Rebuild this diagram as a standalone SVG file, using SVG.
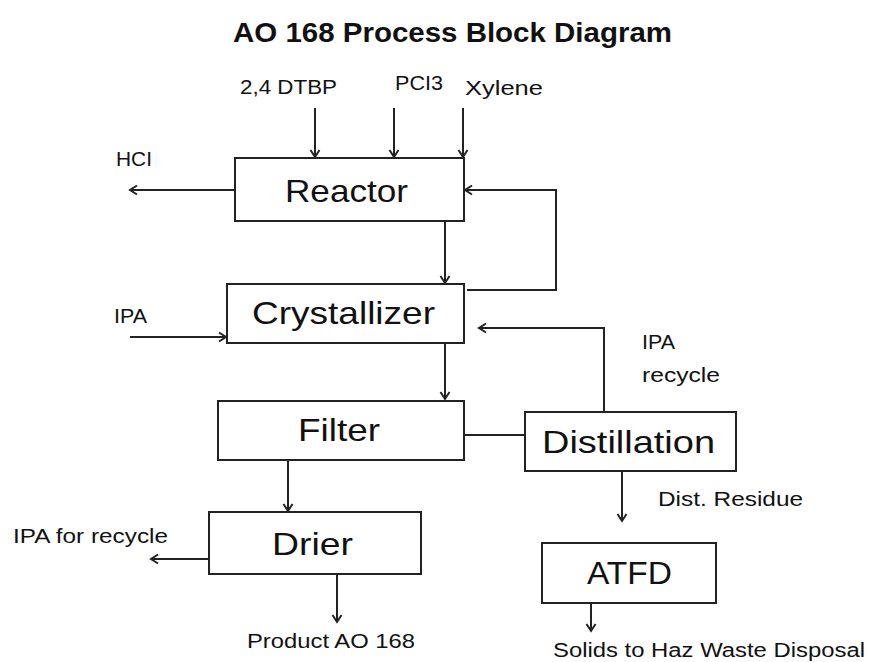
<svg xmlns="http://www.w3.org/2000/svg" width="869" height="662" viewBox="0 0 869 662">
<style>
.box{fill:#fff;stroke:#222;stroke-width:2}
.nl{font-family:"Liberation Sans",Arial,sans-serif;font-size:32px;fill:#111}
.sl{font-family:"Liberation Sans",Arial,sans-serif;font-size:20px;fill:#111}
.title{font-family:"Liberation Sans",Arial,sans-serif;font-size:28px;font-weight:bold;fill:#111}
.c{fill:none;stroke:#222;stroke-width:2}
.a{marker-end:url(#arr)}
</style>
<defs>
<marker id="arr" markerWidth="12" markerHeight="12" refX="9" refY="6" orient="auto" markerUnits="userSpaceOnUse">
<path d="M2,1.5 L9,6 L2,10.5" fill="none" stroke="#222" stroke-width="2"/>
</marker>
</defs>
<rect width="869" height="662" fill="#fff"/>
<text class="title" x="233" y="42" textLength="439" lengthAdjust="spacingAndGlyphs">AO 168 Process Block Diagram</text>

<g id="connectors">
<line class="c a" x1="315" y1="108" x2="315" y2="157"/>
<line class="c a" x1="394" y1="108" x2="394" y2="157"/>
<line class="c a" x1="463" y1="108" x2="463" y2="157"/>
<line class="c a" x1="235" y1="190" x2="130" y2="190"/>
<line class="c a" x1="445" y1="221" x2="445" y2="283"/>
<polyline class="c a" points="467,290 556,290 556,190 465,190"/>
<line class="c a" x1="130" y1="337" x2="226" y2="337"/>
<line class="c a" x1="445" y1="343" x2="445" y2="399"/>
<polyline class="c a" points="604,412 604,328 479,328"/>
<line class="c" x1="464" y1="435" x2="525" y2="435"/>
<line class="c a" x1="288" y1="460" x2="288" y2="511"/>
<line class="c a" x1="209" y1="559" x2="151" y2="559"/>
<line class="c a" x1="337" y1="574" x2="337" y2="622"/>
<line class="c a" x1="622" y1="471" x2="622" y2="521"/>
<line class="c a" x1="591" y1="603" x2="591" y2="631"/>
</g>

<g id="reactor"><rect class="box" x="235" y="158" width="229" height="63"/><text class="nl" x="285" y="202" textLength="123" lengthAdjust="spacingAndGlyphs">Reactor</text></g>
<g id="crystallizer"><rect class="box" x="227" y="284" width="237" height="59"/><text class="nl" x="252" y="324" textLength="183" lengthAdjust="spacingAndGlyphs">Crystallizer</text></g>
<g id="filter"><rect class="box" x="218" y="401" width="246" height="59"/><text class="nl" x="298" y="441" textLength="82" lengthAdjust="spacingAndGlyphs">Filter</text></g>
<g id="distillation"><rect class="box" x="525" y="412" width="211" height="59"/><text class="nl" x="542" y="453" textLength="173" lengthAdjust="spacingAndGlyphs">Distillation</text></g>
<g id="drier"><rect class="box" x="209" y="512" width="212" height="62"/><text class="nl" x="272" y="555" textLength="81" lengthAdjust="spacingAndGlyphs">Drier</text></g>
<g id="atfd"><rect class="box" x="542" y="543" width="174" height="60"/><text class="nl" x="587" y="584" textLength="85" lengthAdjust="spacingAndGlyphs">ATFD</text></g>

<g id="labels">
<text class="sl" x="240" y="94" textLength="97" lengthAdjust="spacingAndGlyphs">2,4 DTBP</text>
<text class="sl" x="395" y="90" textLength="48" lengthAdjust="spacingAndGlyphs">PCI3</text>
<text class="sl" x="465" y="95" textLength="78" lengthAdjust="spacingAndGlyphs">Xylene</text>
<text class="sl" x="116" y="166" textLength="36" lengthAdjust="spacingAndGlyphs">HCI</text>
<text class="sl" x="114" y="323" textLength="33" lengthAdjust="spacingAndGlyphs">IPA</text>
<text class="sl" x="642" y="349" textLength="33" lengthAdjust="spacingAndGlyphs">IPA</text>
<text class="sl" x="642" y="382" textLength="78" lengthAdjust="spacingAndGlyphs">recycle</text>
<text class="sl" x="658" y="506" textLength="145" lengthAdjust="spacingAndGlyphs">Dist. Residue</text>
<text class="sl" x="13" y="543" textLength="155" lengthAdjust="spacingAndGlyphs">IPA for recycle</text>
<text class="sl" x="247" y="648" textLength="168" lengthAdjust="spacingAndGlyphs">Product AO 168</text>
<text class="sl" x="553" y="657" textLength="312" lengthAdjust="spacingAndGlyphs">Solids to Haz Waste Disposal</text>
</g>
</svg>
